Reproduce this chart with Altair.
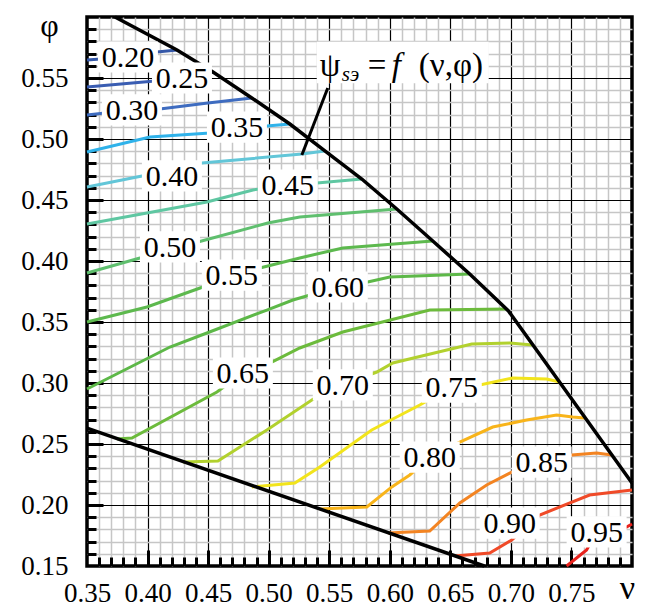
import altair as alt
import pandas as pd

FONT = "Times New Roman, Liberation Serif, serif"
W, H = 545, 549

# ---------------- data ----------------
levels = ["0.20", "0.25", "0.30", "0.35", "0.40", "0.45", "0.50", "0.55",
          "0.60", "0.65", "0.70", "0.75", "0.80", "0.85", "0.90", "0.95"]
level_colors = ["#3558a8", "#3a5db2", "#3e6cc0", "#2fb2ea", "#62c6d8", "#5fc7a2",
                "#5fbf6e", "#5db94e", "#5db848", "#6cbb3c", "#b2d12e", "#f2e41c",
                "#f8b41a", "#f38422", "#f04a28", "#e8221c"]

contour_nu = {
    "0.20": [0.350, 0.3838, 0.4078, 0.4243],
    "0.25": [0.350, 0.4061, 0.4284, 0.4540],
    "0.30": [0.350, 0.3871, 0.4102, 0.4498, 0.4861],
    "0.35": [0.350, 0.4020, 0.4515, 0.4738, 0.4985, 0.5175],
    "0.40": [0.350, 0.3954, 0.4449, 0.5274, 0.5464],
    "0.45": [0.350, 0.3995, 0.4490, 0.4870, 0.5158, 0.5398, 0.5769],
    "0.50": [0.350, 0.3937, 0.4185, 0.4416, 0.4993, 0.5257, 0.6058],
    "0.55": [0.350, 0.3995, 0.4457, 0.4696, 0.4927, 0.5257, 0.5612, 0.6355],
    "0.60": [0.350, 0.4185, 0.4490, 0.4985, 0.5200, 0.5571, 0.5818, 0.6000, 0.6660],
    "0.65": [0.3748, 0.3871, 0.4573, 0.4787, 0.5026, 0.5257, 0.5612, 0.6330, 0.6965],
    "0.70": [0.4292, 0.4581, 0.4985, 0.5381, 0.5612, 0.5893, 0.6025, 0.6677, 0.6990, 0.7180],
    "0.75": [0.4861, 0.5216, 0.5422, 0.5851, 0.6248, 0.6512, 0.6743, 0.7015, 0.7295, 0.7403],
    "0.80": [0.5422, 0.5810, 0.6017, 0.6165, 0.6330, 0.6578, 0.6850, 0.7130, 0.7378, 0.7510, 0.7609],
    "0.85": [0.5984, 0.6330, 0.6578, 0.6800, 0.7007, 0.7254, 0.7502, 0.7708, 0.7832],
    "0.90": [0.6536, 0.6825, 0.7007, 0.7238, 0.7650, 0.8000],
    "0.95": [0.7460, 0.7625, 0.7708, 0.7955, 0.8000],
}
contour_phi = {
    "0.20": [0.5648, 0.5672, 0.5713, 0.5730],
    "0.25": [0.5426, 0.5475, 0.5500, 0.5549],
    "0.30": [0.5197, 0.5238, 0.5246, 0.5295, 0.5336],
    "0.35": [0.4893, 0.5016, 0.5049, 0.5098, 0.5107, 0.5123],
    "0.40": [0.4607, 0.4697, 0.4803, 0.4877, 0.4902],
    "0.45": [0.4303, 0.4393, 0.4484, 0.4582, 0.4623, 0.4639, 0.4672],
    "0.50": [0.3902, 0.4025, 0.4115, 0.4156, 0.4311, 0.4361, 0.4426],
    "0.55": [0.3500, 0.3623, 0.3787, 0.3885, 0.3943, 0.4025, 0.4107, 0.4164],
    "0.60": [0.2951, 0.3295, 0.3410, 0.3598, 0.3680, 0.3787, 0.3828, 0.3869, 0.3893],
    "0.65": [0.2541, 0.2549, 0.2926, 0.3082, 0.3172, 0.3287, 0.3418, 0.3598, 0.3607],
    "0.70": [0.2352, 0.2361, 0.2615, 0.2877, 0.2984, 0.3090, 0.3164, 0.3320, 0.3328, 0.3311],
    "0.75": [0.2148, 0.2180, 0.2311, 0.2615, 0.2820, 0.2967, 0.2984, 0.3041, 0.3033, 0.3008],
    "0.80": [0.1967, 0.1984, 0.2148, 0.2246, 0.2393, 0.2516, 0.2639, 0.2697, 0.2738, 0.2721, 0.2713],
    "0.85": [0.1770, 0.1787, 0.2016, 0.2164, 0.2270, 0.2352, 0.2410, 0.2426, 0.2410],
    "0.90": [0.1582, 0.1607, 0.1713, 0.1918, 0.2082, 0.2123],
    "0.95": [0.1500, 0.1631, 0.1779, 0.1820, 0.1844],
}

label_nu = [0.3838, 0.4284, 0.3871, 0.4738, 0.4201, 0.5158, 0.4185, 0.4696,
            0.5571, 0.4787, 0.5612, 0.6512, 0.6330, 0.7254, 0.6990, 0.7708]
label_phi = [0.5672, 0.5500, 0.5238, 0.5098, 0.4697, 0.4623, 0.4115, 0.3885,
             0.3787, 0.3082, 0.2984, 0.2967, 0.2393, 0.2352, 0.1852, 0.1779]

upper_nu = [0.3731, 0.4243, 0.4540, 0.4861, 0.5175, 0.5464, 0.5769, 0.6058,
            0.6355, 0.6660, 0.6980, 0.8000]
upper_phi = [0.6000, 0.5730, 0.5549, 0.5336, 0.5123, 0.4902, 0.4672, 0.4426,
             0.4164, 0.3893, 0.3590, 0.2180]
lower_nu = [0.350, 0.678]
lower_phi = [0.263, 0.150]

leader_nu = [0.5488, 0.5274]
leader_phi = [0.5418, 0.4869]
ann_nu = [0.5422]
ann_phi = [0.5516]
ann_box_nu = [0.6107]
ann_box_phi = [0.5627]

x_grid_major = [0.40, 0.45, 0.50, 0.55, 0.60, 0.65, 0.70, 0.75]
y_grid_major = [0.20, 0.25, 0.30, 0.35, 0.40, 0.45, 0.50, 0.55]
x_tick_labels = [0.35, 0.40, 0.45, 0.50, 0.55, 0.60, 0.65, 0.70, 0.75]
y_tick_labels = [0.15, 0.20, 0.25, 0.30, 0.35, 0.40, 0.45, 0.50, 0.55]
x_ticks_minor = [round(0.35 + 0.01 * i, 2) for i in range(46) if i % 5]
y_ticks_minor = [round(0.15 + 0.01 * i, 2) for i in range(46) if i % 5]

# ---------------- tables ----------------
rows = []
for lv in levels:
    for i, (a, b) in enumerate(zip(contour_nu[lv], contour_phi[lv])):
        rows.append({"level": lv, "nu": a, "phi": b, "i": i})
contours = pd.DataFrame(rows)
labels_df = pd.DataFrame({"level": levels, "nu": label_nu, "phi": label_phi})
upper_df = pd.DataFrame({"nu": upper_nu, "phi": upper_phi, "i": range(len(upper_nu))})
lower_df = pd.DataFrame({"nu": lower_nu, "phi": lower_phi, "i": range(len(lower_nu))})
leader_df = pd.DataFrame({"nu": leader_nu, "phi": leader_phi, "i": [0, 1]})
ann_df = pd.DataFrame({"nu": ann_nu, "phi": ann_phi})
ann_box_df = pd.DataFrame({"nu": ann_box_nu, "phi": ann_box_phi})

xs = alt.Scale(domain=[0.35, 0.80], nice=False, zero=False)
ys = alt.Scale(domain=[0.15, 0.60], nice=False, zero=False)


def bare(**kw):
    d = dict(title=None, labels=False, ticks=False, domain=False, grid=False)
    d.update(kw)
    return alt.Axis(**d)


ax_grid_minor_x = bare(orient="bottom", values=x_ticks_minor, grid=True, gridColor="#c6c6c6", gridWidth=1.5)
ax_grid_minor_y = bare(orient="left", values=y_ticks_minor, grid=True, gridColor="#c6c6c6", gridWidth=1.5)
ax_grid_major_x = bare(orient="bottom", values=x_grid_major, grid=True, gridColor="black", gridWidth=1.2)
ax_grid_major_y = bare(orient="left", values=y_grid_major, grid=True, gridColor="black", gridWidth=1.2)
ax_main_x = alt.Axis(orient="bottom", values=x_tick_labels, format=".2f", grid=False,
                     ticks=False, domain=False,
                     labelFont=FONT, labelFontSize=27, labelColor="black", labelPadding=14,
                     labelFlush=False, labelOverlap=False,
                     title="ν", titleFont=FONT, titleFontSize=34, titleFontWeight="normal",
                     titleColor="black", titleX=540, titleY=22, titleAlign="center",
                     titleBaseline="middle", titleAngle=0)
ax_main_y = alt.Axis(orient="left", values=y_tick_labels, format=".2f", grid=False,
                     ticks=False, domain=False,
                     labelFont=FONT, labelFontSize=27, labelColor="black", labelPadding=19,
                     labelFlush=False, labelOverlap=False,
                     title="φ", titleFont=FONT, titleFontSize=32, titleFontWeight="normal",
                     titleColor="black", titleX=-38, titleY=8, titleAlign="center",
                     titleBaseline="middle", titleAngle=0)
ax_tick_minor_x = bare(orient="top", offset=-H, values=x_ticks_minor, ticks=True,
                       tickSize=9, tickWidth=3, tickColor="black")
ax_tick_minor_y = bare(orient="right", offset=-W, values=y_ticks_minor, ticks=True,
                       tickSize=9, tickWidth=3, tickColor="black")
ax_tick_major_x = bare(orient="top", offset=-H, values=x_grid_major, ticks=True,
                       tickSize=16, tickWidth=3, tickColor="black")
ax_tick_major_y = bare(orient="right", offset=-W, values=y_grid_major, ticks=True,
                       tickSize=16, tickWidth=3, tickColor="black")

color_scale = alt.Scale(domain=levels, range=level_colors)

contour_layer = alt.Chart(contours).mark_line(strokeWidth=3).encode(
    x=alt.X("nu:Q", scale=xs, axis=ax_grid_minor_x),
    y=alt.Y("phi:Q", scale=ys, axis=ax_grid_minor_y),
    color=alt.Color("level:N", scale=color_scale, legend=None),
    detail="level:N",
    order="i:Q",
)

upper_layer = alt.Chart(upper_df).mark_line(color="black", strokeWidth=3.5).encode(
    x=alt.X("nu:Q", scale=xs, axis=ax_grid_major_x),
    y=alt.Y("phi:Q", scale=ys, axis=ax_grid_major_y),
    order="i:Q",
)

lower_layer = alt.Chart(lower_df).mark_line(color="black", strokeWidth=3.5).encode(
    x=alt.X("nu:Q", scale=xs, axis=ax_tick_minor_x),
    y=alt.Y("phi:Q", scale=ys, axis=ax_tick_minor_y),
    order="i:Q",
)

box_shape = "M-1,-0.52L1,-0.52L1,0.52L-1,0.52Z"
boxes_layer = alt.Chart(labels_df).mark_point(
    shape=box_shape, size=60 * 60, filled=True, fill="white", opacity=1, strokeWidth=0
).encode(
    x=alt.X("nu:Q", scale=xs, axis=ax_tick_major_x),
    y=alt.Y("phi:Q", scale=ys, axis=ax_tick_major_y),
)

text_layer = alt.Chart(labels_df).mark_text(
    font=FONT, fontSize=30, color="black", align="center", baseline="middle", dy=1
).encode(
    x=alt.X("nu:Q", scale=xs, axis=ax_main_x),
    y=alt.Y("phi:Q", scale=ys, axis=ax_main_y),
    text="level:N",
)

ann_box_layer = alt.Chart(ann_box_df).mark_point(
    shape="M-1,-0.241L1,-0.241L1,0.241L-1,0.241Z", size=172 * 172, filled=True,
    fill="white", opacity=1, strokeWidth=0
).encode(
    x=alt.X("nu:Q", scale=xs, axis=None),
    y=alt.Y("phi:Q", scale=ys, axis=None),
)

leader_layer = alt.Chart(leader_df).mark_line(color="black", strokeWidth=3).encode(
    x=alt.X("nu:Q", scale=xs, axis=None),
    y=alt.Y("phi:Q", scale=ys, axis=None),
    order="i:Q",
)


def ann_piece(txt, dx, dy=0, size=33, style="normal"):
    return alt.Chart(ann_df).mark_text(
        text=txt, font=FONT, fontSize=size, fontStyle=style, color="black",
        align="left", baseline="alphabetic", dx=dx, dy=dy
    ).encode(
        x=alt.X("nu:Q", scale=xs, axis=None),
        y=alt.Y("phi:Q", scale=ys, axis=None),
    )


ann_layers = [
    ann_piece("ψ", 0),
    ann_piece("sэ", 22, 5, 21, "italic"),
    ann_piece("=", 48),
    ann_piece("f", 72, 0, 33, "italic"),
    ann_piece("(ν,φ)", 99),
]

chart = alt.layer(
    contour_layer, upper_layer, lower_layer, boxes_layer, text_layer,
    ann_box_layer, leader_layer, *ann_layers
).resolve_axis(x="independent", y="independent").properties(
    width=W, height=H,
    autosize=alt.AutoSizeParams(type="none"),
    padding={"left": 79, "top": 9, "right": 10, "bottom": 40},
).configure_view(stroke="black", strokeWidth=3.5)

chart.save("out.html", embed_options={"renderer": "svg", "actions": False})
